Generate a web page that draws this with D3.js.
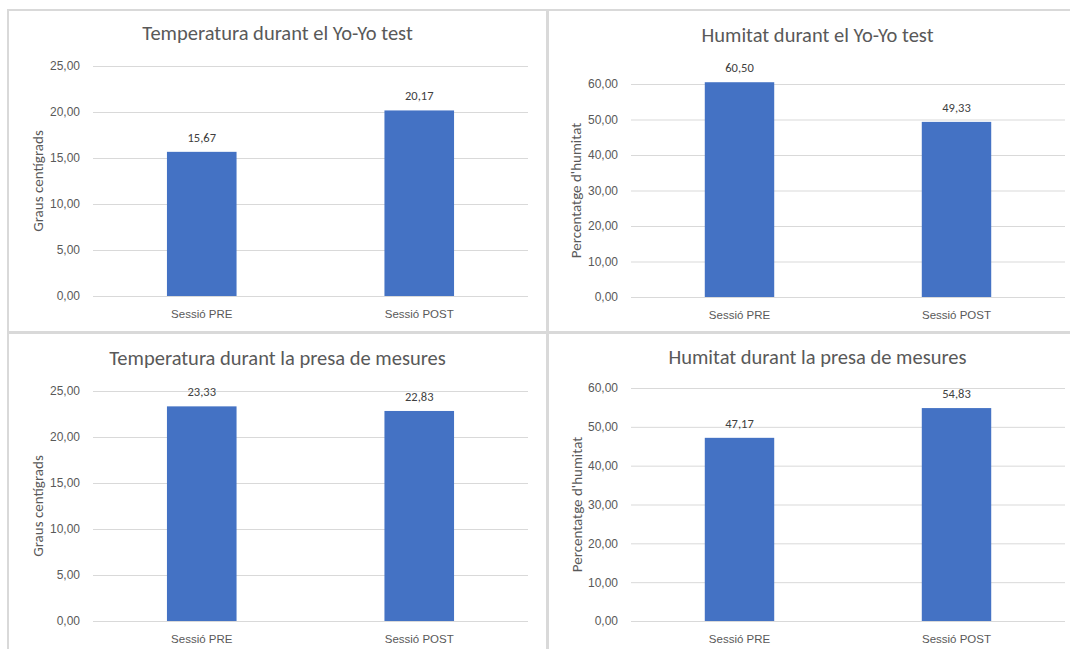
<!DOCTYPE html>
<html>
<head>
<meta charset="utf-8">
<script src="https://cdn.jsdelivr.net/npm/d3@7"></script>
<style>
  body { margin: 0; background: #ffffff; }
  svg { display: block; font-family: Carlito, Calibri, Lato, sans-serif; }
  .grid line { stroke: #d9d9d9; stroke-width: 1; }
  .grid text, .xaxis text { fill: #595959; }
</style>
</head>
<body>
<div id="vis"></div>
<script>
// Data
const CATEGORIES = ["Sessió PRE", "Sessió POST"];
const TEMP_YOYO = [15.67, 20.17];
const HUM_YOYO = [60.50, 49.33];
const TEMP_MESURES = [23.33, 22.83];
const HUM_MESURES = [47.17, 54.83];
const TEMP_TICKS = [0, 5, 10, 15, 20, 25];
const HUM_TICKS = [0, 10, 20, 30, 40, 50, 60];
const TITLES = ["Temperatura durant el Yo-Yo test", "Humitat durant el Yo-Yo test",
                "Temperatura durant la presa de mesures", "Humitat durant la presa de mesures"];
const Y_TITLES = ["Graus centígrads", "Percentatge d'humitat"];

const WIDTH = 1070;
const HEIGHT = 649;

const LOCALE = d3.formatLocale({decimal: ",", thousands: ".", grouping: [3], currency: ["", "€"]});
const FMT = LOCALE.format(".2f");

const SVG = d3.select("#vis")
              .append("svg")
                .attr("width", WIDTH)
                .attr("height", HEIGHT);

// panel layout (positions only)
const PANELS = [
  {x: 8, y: 10, title: TITLES[0], yTitle: Y_TITLES[0], values: TEMP_YOYO, ticks: TEMP_TICKS,
   titleY: 40, left: 93, right: 528, bottom: 296, top: 66, yTitleX: 38},
  {x: 548, y: 10, title: TITLES[1], yTitle: Y_TITLES[1], values: HUM_YOYO, ticks: HUM_TICKS,
   titleY: 42, left: 631, right: 1065, bottom: 297, top: 84, yTitleX: 576},
  {x: 8, y: 333, title: TITLES[2], yTitle: Y_TITLES[0], values: TEMP_MESURES, ticks: TEMP_TICKS,
   titleY: 365, left: 93, right: 528, bottom: 621, top: 391, yTitleX: 38},
  {x: 548, y: 333, title: TITLES[3], yTitle: Y_TITLES[1], values: HUM_MESURES, ticks: HUM_TICKS,
   titleY: 364, left: 631, right: 1065, bottom: 621, top: 388, yTitleX: 577}
];

function drawPanel(p) {
  const G = SVG.append("g");

  // chart border
  G.append("rect")
    .attr("x", p.x)
    .attr("y", p.y)
    .attr("width", 539)
    .attr("height", 322)
    .attr("fill", "none")
    .attr("stroke", "#d9d9d9")
    .attr("stroke-width", 2);

  const X_SCALE = d3.scaleBand()
                    .domain(CATEGORIES)
                    .range([p.left, p.right])
                    .paddingInner(0.68)
                    .paddingOuter(0.34);

  const Y_SCALE = d3.scaleLinear()
                    .domain([0, d3.max(p.ticks)])
                    .range([p.bottom, p.top]);

  // gridlines + y tick labels
  const yAxis = G.append("g")
    .attr("class", "grid")
    .attr("transform", "translate(" + p.left + ",0)")
    .call(d3.axisLeft(Y_SCALE)
            .tickValues(p.ticks)
            .tickSize(-(p.right - p.left))
            .tickPadding(13)
            .tickFormat(FMT));
  yAxis.select(".domain").remove();
  yAxis.selectAll("text").attr("font-size", "12px").attr("font-family", null);

  // bars
  G.selectAll(".bar")
    .data(p.values)
    .enter()
    .append("rect")
      .attr("class", "bar")
      .attr("x", (d, i) => X_SCALE(CATEGORIES[i]))
      .attr("y", (d) => Y_SCALE(d))
      .attr("width", X_SCALE.bandwidth())
      .attr("height", (d) => p.bottom - Y_SCALE(d))
      .attr("fill", "#4472c4");

  // data labels
  G.selectAll(".label")
    .data(p.values)
    .enter()
    .append("text")
      .attr("x", (d, i) => X_SCALE(CATEGORIES[i]) + X_SCALE.bandwidth() / 2)
      .attr("y", (d) => Y_SCALE(d) - 10)
      .attr("text-anchor", "middle")
      .attr("font-size", "12.5px")
      .attr("fill", "#404040")
      .text((d) => FMT(d));

  // x axis labels
  const xAxis = G.append("g")
    .attr("class", "xaxis")
    .attr("transform", "translate(0," + p.bottom + ")")
    .call(d3.axisBottom(X_SCALE).tickSize(0).tickPadding(14));
  xAxis.select(".domain").remove();
  xAxis.selectAll("text").attr("font-size", "11.5px").attr("font-family", null);

  // title
  G.append("text")
    .attr("x", p.x + 269.5)
    .attr("y", p.titleY)
    .attr("text-anchor", "middle")
    .attr("font-size", "20.5px")
    .attr("fill", "#595959")
    .text(p.title);

  // y axis title
  G.append("text")
    .attr("transform", "translate(" + p.yTitleX + "," + ((p.top + p.bottom) / 2) + ") rotate(-90)")
    .attr("dy", "0.35em")
    .attr("text-anchor", "middle")
    .attr("font-size", "15px")
    .attr("fill", "#595959")
    .text(p.yTitle);
}

PANELS.forEach(drawPanel);
</script>
</body>
</html>
